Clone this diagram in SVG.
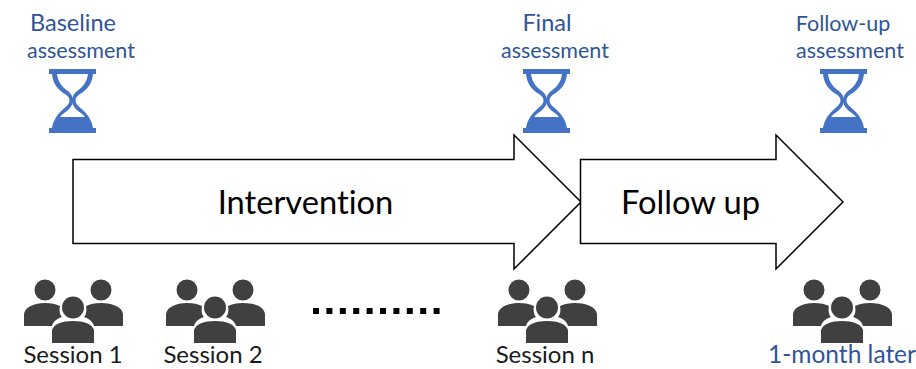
<svg xmlns="http://www.w3.org/2000/svg" width="916" height="369" viewBox="0 0 916 369">
<style>
text{font-family:Lato,"Open Sans","Liberation Sans",sans-serif;text-anchor:middle;font-variant-ligatures:none}
.b{font-size:21.500px;fill:#2f5597}
.t{font-size:23.500px;fill:#2f5597}
.k{font-size:24px;fill:#1a1a1a}
.m{font-size:24.500px;fill:#2f5597}
.l{font-size:32.700px;fill:#000}
.a{fill:#fff;stroke:#000;stroke-width:1.5;stroke-linejoin:miter}
</style>
<defs>
<g id="hg">
<path fill="#4472c4" fill-rule="evenodd" d="M0 0H47V5H44C43 15 38 21 31 25C28 27 26.500 29 26.500 31.500C26.500 34 28 36 31 38.500C39 45 43 52 44 59H47V64H0V59H3C4 52 8 45 16 38.500C19 36 20.500 34 20.500 31.500C20.500 29 19 27 16 25C9 21 4 15 3 5H0ZM8 5C9 13 13 18 19 22C21.500 24 23.500 27 23.500 29.500C23.500 27 25.500 24 28 22C34 18 38 13 39 5ZM23.500 33.500C23.500 36 21.500 39 18 42C15 44 12.500 46 11 48H36C34.500 46 32 44 29 42C25.500 39 23.500 36 23.500 33.500Z"/>
</g>
<g id="pp" fill="#404040">
<circle cx="21" cy="20" r="10.500"/>
<path d="M0 56V44C1 37 10 33 21 33C27 33 32 34 36 36C35 41 36 45 38 47C32 49 29 52 28 56Z"/>
<circle cx="77" cy="20" r="10.500"/>
<path d="M99 56V44C98 37 89 33 77 33C71 33 66 34 62 36C63 41 62 45 60 47C66 49 69 52 70 56Z"/>
<circle cx="49" cy="37.500" r="11"/>
<path d="M28 73V60C30 54 38 51 49 51C60 51 68 54 70 60V73Z"/>
</g>
</defs>
<g id="connectors">
<path d="M313 311H440" fill="none" stroke="#000" stroke-width="6" stroke-dasharray="6 7.400"/>
</g>
<g id="intervention">
<path class="a" d="M73 159.500H514V135L581 202L514 269V243.500H73Z"/>
<text class="l" x="305.500" y="214">Intervention</text>
</g>
<g id="followup">
<path class="a" d="M580.500 159.500H776V135L843 202L776 269V243.500H580.500Z"/>
<text class="l" x="690.500" y="214">Follow up</text>
</g>
<g id="baseline">
<text class="t" x="73" y="31">Baseline</text>
<text class="b" x="81" y="58">assessment</text>
<use href="#hg" x="49" y="69"/>
</g>
<g id="final">
<text class="t" x="547" y="31">Final</text>
<text class="b" x="555" y="58">assessment</text>
<use href="#hg" x="523" y="69"/>
</g>
<g id="followup-assessment">
<text class="b" x="843" y="31">Follow-up</text>
<text class="b" x="850" y="58">assessment</text>
<use href="#hg" x="820" y="69"/>
</g>
<g id="session1">
<use href="#pp" x="24" y="270"/>
<text class="k" x="73" y="363">Session 1</text>
</g>
<g id="session2">
<use href="#pp" x="166" y="270"/>
<text class="k" x="213" y="363">Session 2</text>
</g>
<g id="sessionn">
<use href="#pp" x="498" y="270"/>
<text class="k" x="545" y="363">Session n</text>
</g>
<g id="later">
<use href="#pp" x="793" y="270"/>
<text class="m" x="842" y="363">1-month later</text>
</g>
</svg>
